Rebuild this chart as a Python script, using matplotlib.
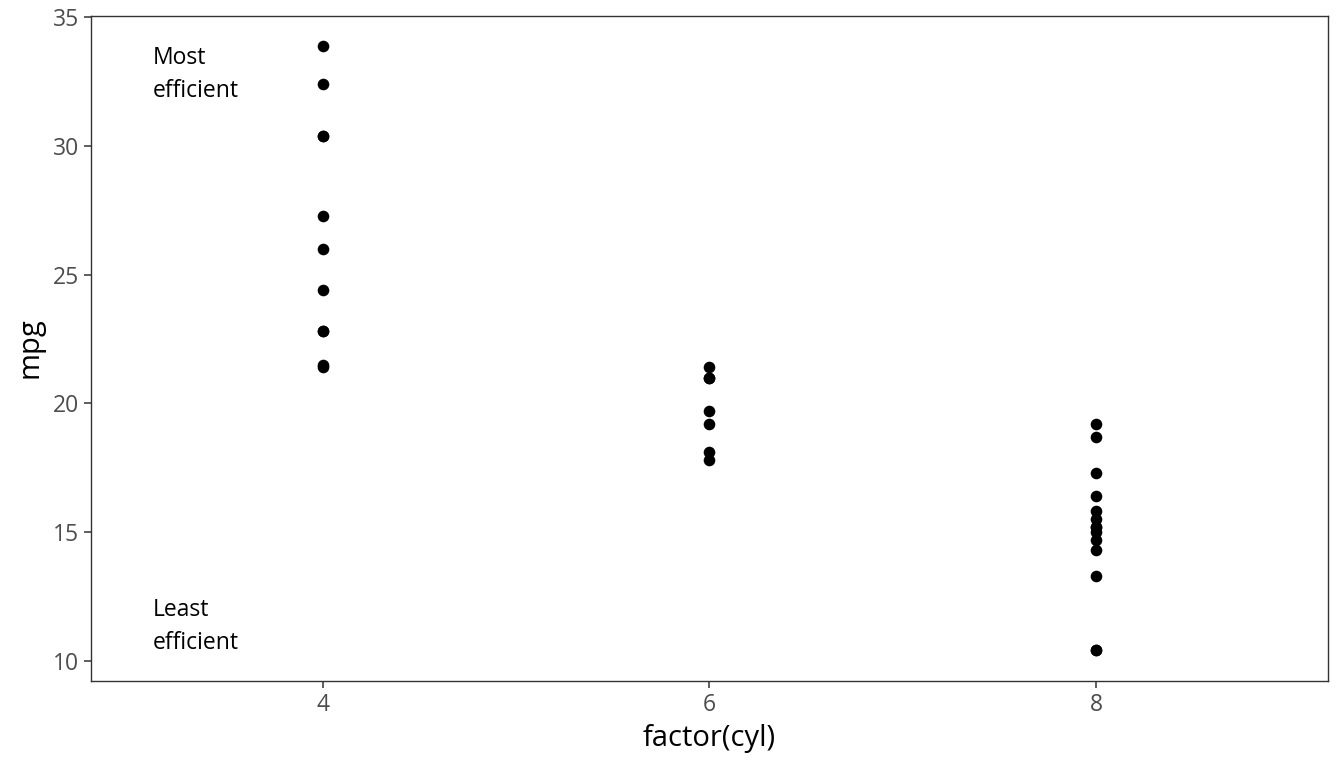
import matplotlib
matplotlib.use("Agg")
import matplotlib.pyplot as plt
import matplotlib.transforms as mtransforms

plt.rcParams['font.family'] = ['Open Sans', 'DejaVu Sans']

categories = ["4", "6", "8"]
mpg_4 = [22.8, 24.4, 22.8, 32.4, 30.4, 33.9, 21.5, 27.3, 26.0, 30.4, 21.4]
mpg_6 = [21.0, 21.0, 21.4, 18.1, 19.2, 17.8, 19.7]
mpg_8 = [18.7, 14.3, 16.4, 17.3, 15.2, 10.4, 10.4, 14.7, 15.5, 15.2, 13.3, 19.2, 15.8, 15.0]
groups = [mpg_4, mpg_6, mpg_8]
y_ticks = [10, 15, 20, 25, 30, 35]
label_top = "Most\nefficient"
label_bottom = "Least\nefficient"

fig = plt.figure(figsize=(13.44, 7.68), dpi=100)
ax = fig.add_axes([90.5/1344, 1 - 680.5/768, (1328 - 90.5)/1344, (680.5 - 15.5)/768])

for i, vals in enumerate(groups):
    ax.scatter([i + 1] * len(vals), vals, s=70, color='black', linewidths=0, zorder=3)

all_vals = mpg_4 + mpg_6 + mpg_8
ymin, ymax = min(all_vals), max(all_vals)
pad = (ymax - ymin) * 0.05
ax.set_ylim(ymin - pad, ymax + pad)
ax.set_xlim(0.4, 3.6)

ax.set_xticks([1, 2, 3])
ax.set_xticklabels(categories)
ax.set_yticks(y_ticks)

ax.text(0.56, ymax, label_top, ha='left', va='top', fontsize=16.5, color='black', linespacing=1.5)
down = mtransforms.offset_copy(ax.transData, fig=fig, x=0, y=-5, units='dots')
ax.text(0.56, ymin, label_bottom, ha='left', va='bottom', fontsize=16.5, color='black',
        linespacing=1.5, transform=down)

for sp in ax.spines.values():
    sp.set_color('#333333')
    sp.set_linewidth(1.0)

ax.tick_params(axis='both', colors='#333333', labelcolor='#4D4D4D', labelsize=16.5,
               length=5, width=1.1)
ax.tick_params(axis='x', pad=4)
ax.tick_params(axis='y', pad=3)

ax.set_xlabel("factor(cyl)", fontsize=21, color='black', labelpad=5)
ax.set_ylabel("mpg", fontsize=21, color='black', labelpad=6)

fig.savefig("out.png", dpi=100)
